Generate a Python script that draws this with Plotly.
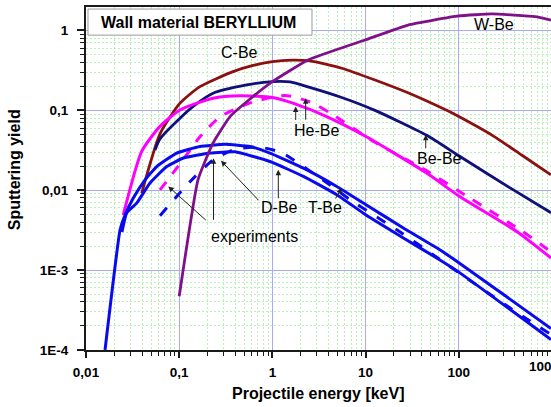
import plotly.graph_objects as go

# Projectile energy in keV, sputtering yield in atoms per ion (beryllium target)
c_be_energy = [0.0396, 0.0622, 0.102, 0.167, 0.378, 0.62, 1.0, 1.62, 2.53, 5.54, 12.6, 28.5, 74.1, 100, 233, 476, 975]
c_be_yield = [0.0092, 0.0508, 0.123, 0.198, 0.305, 0.365, 0.407, 0.425, 0.416, 0.337, 0.24, 0.166, 0.1, 0.0836, 0.048, 0.0274, 0.0156]

be_be_energy = [0.055, 0.0622, 0.102, 0.148, 0.231, 0.53, 1.0, 1.55, 2.41, 5.54, 12.6, 45.2, 100, 385, 975]
be_be_yield = [0.032, 0.044, 0.0799, 0.117, 0.164, 0.208, 0.229, 0.227, 0.197, 0.145, 0.1, 0.0487, 0.027, 0.0101, 0.00523]

he_be_energy = [0.0251, 0.0396, 0.0622, 0.102, 0.231, 0.449, 1.0, 1.66, 3.82, 10.1, 45.2, 100, 418, 975]
he_be_yield = [0.0049, 0.0307, 0.063, 0.101, 0.142, 0.152, 0.145, 0.123, 0.0836, 0.047, 0.0164, 0.0085, 0.00305, 0.00142]

he_be_exp_energy = [0.0622, 0.102, 0.167, 0.274, 0.575, 1.36, 2.53, 4.15, 12.6, 43.4, 135, 454, 975]
he_be_exp_yield = [0.0101, 0.0214, 0.0466, 0.083, 0.124, 0.154, 0.128, 0.093, 0.0398, 0.018, 0.00783, 0.0032, 0.0017]

d_be_energy = [0.0243, 0.0273, 0.035, 0.0486, 0.0735, 0.111, 0.214, 0.397, 0.942, 2.15, 4.9, 10.1, 25.4, 57.9, 100, 975]
d_be_yield = [0.003, 0.0052, 0.0069, 0.0123, 0.0198, 0.0253, 0.0292, 0.0303, 0.0229, 0.0149, 0.0088, 0.0049, 0.00253, 0.00142, 0.000944, 0.000135]

t_be_energy = [0.016, 0.0232, 0.0262, 0.0322, 0.043, 0.0574, 0.094, 0.167, 0.31, 0.575, 0.942, 2.15, 4.9, 10.1, 25.4, 57.9, 100, 975]
t_be_yield = [0.0001, 0.0032, 0.0049, 0.008, 0.0135, 0.0198, 0.0292, 0.0353, 0.0376, 0.0353, 0.0292, 0.0189, 0.01115, 0.00659, 0.00337, 0.0019, 0.00124, 0.000186]

dt_be_exp_energy = [0.0622, 0.1306, 0.231, 0.397, 0.736, 1.27, 2.41, 4.36, 6.8, 25, 49, 313, 975]
dt_be_exp_yield = [0.0048, 0.0128, 0.024, 0.0326, 0.0345, 0.0294, 0.018, 0.0112, 0.0076, 0.00286, 0.00166, 0.00037, 0.000156]

w_be_energy = [0.1, 0.159, 0.231, 0.351, 0.62, 1.0, 2.41, 9.86, 28.5, 100, 227, 658, 975]
w_be_yield = [0.00047, 0.0135, 0.0392, 0.0836, 0.149, 0.229, 0.428, 0.76, 1.17, 1.52, 1.61, 1.49, 1.35]

x_tick_values = [0.01, 0.1, 1, 10, 100]
x_tick_labels = ["0,01", "0,1", "1", "10", "100"]
y_tick_values = [1e-4, 1e-3, 0.01, 0.1, 1]
y_tick_labels = ["1E-4", "1E-3", "0,01", "0,1", "1"]

FONT = "Arial, Liberation Sans, sans-serif"

fig = go.Figure()


def add_curve(energy, yld, color, width, dash="solid", smoothing=0.6):
    fig.add_trace(go.Scatter(
        x=energy, y=yld, mode="lines",
        line=dict(color=color, width=width, dash=dash, shape="spline", smoothing=smoothing),
        hoverinfo="skip", showlegend=False,
    ))


add_curve(c_be_energy, c_be_yield, "#8b1010", 2.8)
add_curve(be_be_energy, be_be_yield, "#10107a", 2.8)
add_curve(he_be_energy, he_be_yield, "#ff00ff", 3)
add_curve(he_be_exp_energy, he_be_exp_yield, "#ff00ff", 3, "10px,10px")
add_curve(d_be_energy, d_be_yield, "#0a0aee", 3, smoothing=0.4)
add_curve(t_be_energy, t_be_yield, "#0a0aee", 3, smoothing=0.4)
add_curve(dt_be_exp_energy, dt_be_exp_yield, "#0a0aee", 3, "10px,12px")
add_curve(w_be_energy, w_be_yield, "#80108a", 2.8, smoothing=0.4)

minor_x = [k * 10.0 ** p for p in range(-2, 3) for k in range(2, 10)]
minor_y = [k * 10.0 ** p for p in range(-4, 1) for k in range(2, 10)]

tick_font = dict(family=FONT, size=13.5, color="black", weight="bold")


def axis_style(tickvals, ticktext, minor_vals, rng, ticklen):
    return dict(
        type="log", range=rng, tickmode="array", tickvals=tickvals, ticktext=ticktext,
        showline=True, linecolor="#1a1a1a", linewidth=2,
        ticks="outside", ticklen=ticklen, tickwidth=1.5, tickcolor="#1a1a1a",
        showgrid=True, gridcolor="#a9a9f6", gridwidth=1.2,
        tickfont=tick_font, zeroline=False, fixedrange=True,
        minor=dict(tickmode="array", tickvals=minor_vals, ticks="outside", ticklen=4,
                   tickwidth=1, tickcolor="#1a1a1a", showgrid=True,
                   gridcolor="#bdeebd", griddash="2px,2px", gridwidth=1),
    )


xaxis = axis_style(x_tick_values, x_tick_labels, minor_x, [-2, 2.989], 6)
xaxis["mirror"] = True
xaxis["ticklabelstandoff"] = 3
yaxis = axis_style(y_tick_values, y_tick_labels, minor_y, [-4, 0.294], 7)
yaxis["ticklabelstandoff"] = 6

fig.update_layout(
    width=551, height=407, autosize=False,
    margin=dict(l=86, r=0, t=7, b=57, pad=0),
    paper_bgcolor="white", plot_bgcolor="white",
    xaxis=xaxis, yaxis=yaxis, showlegend=False,
)

# Title box
fig.add_shape(type="rect", xref="paper", yref="paper",
              x0=0.0043, x1=0.486, y0=0.918, y1=0.994,
              line=dict(color="#9a9a9a", width=1), fillcolor="white", layer="above")
fig.add_annotation(xref="paper", yref="paper", x=0.028, y=0.9548,
                   xanchor="left", yanchor="middle", showarrow=False,
                   text="Wall material BERYLLIUM",
                   font=dict(family=FONT, size=16, color="black", weight="bold"))

# Axis titles
fig.add_annotation(xref="paper", yref="paper", x=0.501, y=-0.127,
                   xanchor="center", yanchor="middle", showarrow=False,
                   text="Projectile energy [keV]",
                   font=dict(family=FONT, size=16, color="black", weight="bold"))
fig.add_annotation(xref="paper", yref="paper", x=-0.152, y=0.525,
                   xanchor="center", yanchor="middle", showarrow=False, textangle=-90,
                   text="Sputtering yield",
                   font=dict(family=FONT, size=16, color="black", weight="bold"))
# Last energy label at the right edge
fig.add_annotation(xref="paper", yref="paper", x=0.9484, y=-0.0487,
                   xanchor="left", yanchor="middle", showarrow=False,
                   text="1000", font=tick_font)

# Curve labels (positions in log10 axis units)
labels = [
    ("C-Be", -0.358, -0.281),
    ("W-Be", 2.378, 0.069),
    ("He-Be", 0.468, -1.256),
    ("Be-Be", 1.788, -1.606),
    ("D-Be", 0.071, -2.219),
    ("T-Be", 0.564, -2.219),
    ("experiments", -0.197, -2.581),
]
for text, lx, ly in labels:
    fig.add_annotation(x=lx, y=ly, xref="x", yref="y", text=text, showarrow=False,
                       xanchor="center", yanchor="middle",
                       font=dict(family=FONT, size=16, color="black"))

# Pointer arrows: head in log10 axis units, tail offset in pixels
arrows = [
    (0.250, -0.9525, 0, 15),
    (0.357, -0.8475, 0, 23),
    (1.645, -1.306, 0, 15),
    (0.7436, -1.9725, -7, 12),
    (0.0633, -1.744, 0, 30),
    (-0.5515, -1.631, 39, 41),
    (-0.632, -1.600, 0, 63),
    (-1.117, -1.9525, 39, 35),
]
for hx, hy, dx, dy in arrows:
    fig.add_annotation(x=hx, y=hy, xref="x", yref="y", ax=dx, ay=dy,
                       axref="pixel", ayref="pixel", text="", showarrow=True,
                       arrowhead=2, arrowsize=1.1, arrowwidth=1, arrowcolor="#202020",
                       standoff=0, startstandoff=0)

fig.write_html("out.html", config={"displayModeBar": False})
